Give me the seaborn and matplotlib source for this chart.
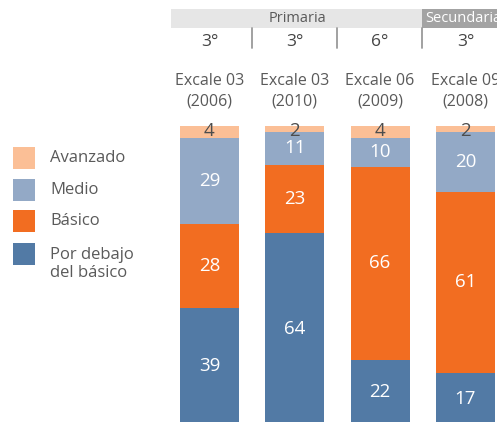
import numpy as np
import pandas as pd
import matplotlib
matplotlib.use("Agg")
import matplotlib.pyplot as plt
import seaborn as sns
from matplotlib.patches import Rectangle
from matplotlib.lines import Line2D

# --- data ---
evaluaciones = ["Excale 03\n(2006)", "Excale 03\n(2010)", "Excale 06\n(2009)", "Excale 09\n(2008)"]
grados = ["3°", "3°", "6°", "3°"]
niveles = ["Por debajo\ndel básico", "Básico", "Medio", "Avanzado"]
por_debajo = [39, 64, 22, 17]
basico = [28, 23, 66, 61]
medio = [29, 11, 10, 20]
avanzado = [4, 2, 4, 2]

COLORS = {"Avanzado": "#fbbf96", "Medio": "#93a9c6", "Básico": "#f26d21",
          "Por debajo\ndel básico": "#527aa5"}
GRAY_TXT = "#5a5a5a"

sns.set_style("white")
plt.rcParams['font.family'] = ['Open Sans', 'DejaVu Sans']

W, H = 497, 422
fig = plt.figure(figsize=(W / 100, H / 100), dpi=100)

def fx(px):
    return px / W

def fy(py):
    return 1 - py / H

# bars axes: category spacing ~85.3px, 0..100 spans 298px
ax = fig.add_axes([fx(166.85), fy(424), fx(341.2), 298 / H])

df = pd.DataFrame({"eval": evaluaciones, "Por debajo\ndel básico": por_debajo,
                   "Básico": basico, "Medio": medio, "Avanzado": avanzado})
tot = df[niveles].sum(axis=1)
pct = df[niveles].div(tot, axis=0) * 100
cum = pct.cumsum(axis=1)

# draw from top layer down so each stacked segment shows
for lvl in reversed(niveles):
    sns.barplot(x=df["eval"], y=cum[lvl], color=COLORS[lvl], width=0.69,
                saturation=1, ax=ax, edgecolor="none", linewidth=0)

for i in range(len(df)):
    for j, lvl in enumerate(niveles):
        top = cum[lvl].iloc[i]
        bot = top - pct[lvl].iloc[i]
        mid = (top + bot) / 2
        val = df[lvl].iloc[i]
        if lvl == "Avanzado":
            ax.text(i, top - 1.6, str(val), ha="center", va="center",
                    fontsize=13.5, color="#4d4d4d")
        else:
            ax.text(i, mid, str(val), ha="center", va="center",
                    fontsize=13.5, color="white")

ax.set_xlim(-0.5, 3.5)
ax.set_ylim(0, 100)
ax.axis("off")

# header bands
fig.patches.append(Rectangle((fx(171), fy(28)), fx(251), 19 / H, transform=fig.transFigure,
                             facecolor="#e6e6e6", edgecolor="none"))
fig.patches.append(Rectangle((fx(422), fy(28)), fx(80), 19 / H, transform=fig.transFigure,
                             facecolor="#a3a3a3", edgecolor="none"))
fig.text(fx(297), fy(18.5), "Primaria", ha="center", va="center", fontsize=10.5, color=GRAY_TXT)
fig.text(fx(425), fy(18.5), "Secundaria", ha="left", va="center", fontsize=10.5, color="white")

for xs in [252, 337, 422]:
    fig.add_artist(Line2D([fx(xs), fx(xs)], [fy(28), fy(48)], color="#9a9a9a", lw=1.3,
                          transform=fig.transFigure))

centers = [209.5, 294.8, 380.1, 465.4]
for cx, g, ev in zip(centers, grados, evaluaciones):
    fig.text(fx(cx), fy(42), g, ha="center", va="center", fontsize=12.5, color="#444444")
    fig.text(fx(cx), fy(91), ev, ha="center", va="center", fontsize=11.5, color=GRAY_TXT,
             linespacing=1.35)

# legend
legend_y = [158, 190, 221, 254]
legend_lbl = ["Avanzado", "Medio", "Básico", "Por debajo\ndel básico"]
for yc, lbl in zip(legend_y, legend_lbl):
    fig.patches.append(Rectangle((fx(13), fy(yc + 11)), fx(22), 22 / H, transform=fig.transFigure,
                                 facecolor=COLORS[lbl], edgecolor="none"))
    if "\n" in lbl:
        fig.text(fx(50), fy(yc - 7), lbl, ha="left", va="top", fontsize=12, color=GRAY_TXT,
                 linespacing=1.2)
    else:
        fig.text(fx(50), fy(yc), lbl, ha="left", va="center", fontsize=12, color=GRAY_TXT)

fig.savefig("out.png", dpi=100)
